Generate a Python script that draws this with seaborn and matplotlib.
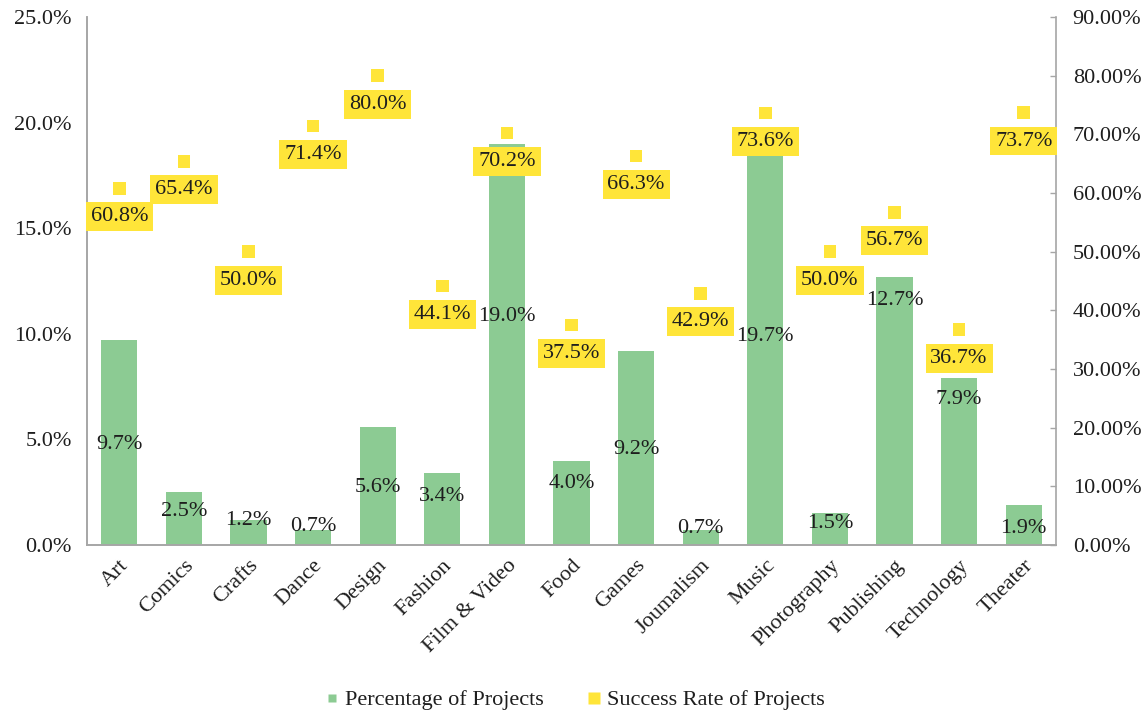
import numpy as np
import matplotlib
matplotlib.use("Agg")
import matplotlib.pyplot as plt
from matplotlib.lines import Line2D
from matplotlib.ticker import FuncFormatter
import seaborn as sns

# Kickstarter-style project categories
categories = ["Art", "Comics", "Crafts", "Dance", "Design", "Fashion", "Film & Video",
              "Food", "Games", "Joumalism", "Music", "Photography", "Publishing",
              "Technology", "Theater"]
# share of all projects per category (%)
share = [9.7, 2.5, 1.2, 0.7, 5.6, 3.4, 19.0, 4.0, 9.2, 0.7, 19.7, 1.5, 12.7, 7.9, 1.9]
# success rate per category (%)
success = [60.8, 65.4, 50.0, 71.4, 80.0, 44.1, 70.2, 37.5, 66.3, 42.9, 73.6, 50.0, 56.7, 36.7, 73.7]
# vertical placement of the share labels inside the bars (left-axis units)
share_label_y = [4.78, 1.6, 1.18, 0.87, 2.7, 2.29, 10.8, 2.93, 4.5, 0.8, 9.86, 1.04, 11.6, 6.87, 0.8]

GREEN = "#8CCB93"
YELLOW = "#FFE539"
SPINE = "#A6A6A6"
TEXT = "#1E1E1E"
FS = 16

sns.set_theme(style="white")
plt.rcParams["font.family"] = ["Liberation Serif", "DejaVu Serif"]
plt.rcParams["font.size"] = FS

fig = plt.figure(figsize=(11.48, 7.15), dpi=100)
ax = fig.add_axes([87 / 1148, 1 - 545 / 715, (1056 - 87) / 1148, (545 - 17) / 715])

pos = np.arange(len(categories))
sns.barplot(x=pos, y=share, color=GREEN, saturation=1, width=0.56, ax=ax,
            linewidth=0, native_scale=True)
ax.set_xlim(-0.5, len(categories) - 0.5)
ax.set_ylim(0, 25)
ax.set_yticks(np.arange(0, 25.1, 5))
ax.yaxis.set_major_formatter(FuncFormatter(lambda v, _: f"{v:.1f}%"))
ax.set_xticks(pos)
ax.set_xticklabels(categories, rotation=45, ha="right", rotation_mode="anchor",
                   color=TEXT, fontsize=FS)
ax.tick_params(axis="x", length=0, pad=8)
ax.tick_params(axis="y", length=0, pad=11, labelcolor=TEXT, labelsize=FS)
ax.set_xlabel("")
ax.set_ylabel("")

for i, (v, ly) in enumerate(zip(share, share_label_y)):
    ax.text(i, ly, f"{v:.1f}%", ha="center", va="center", color=TEXT, fontsize=FS)

ax2 = ax.twinx()
sns.scatterplot(x=pos, y=success, marker="s", s=80, color=YELLOW, edgecolor="none",
                ax=ax2, legend=False, zorder=3)
ax2.set_ylim(0, 90)
ax2.set_yticks(np.arange(0, 90.1, 10))
ax2.yaxis.set_major_formatter(FuncFormatter(lambda v, _: f"{v:.2f}%"))
ax2.tick_params(axis="y", direction="in", length=4, width=1, color=SPINE,
                pad=12, labelcolor=TEXT, labelsize=FS)
ax2.set_ylabel("")

for i, v in enumerate(success):
    ax2.annotate(f"{v:.1f}%", xy=(i, v), xytext=(0, -20.5), textcoords="offset points",
                 ha="center", va="center", color=TEXT, fontsize=FS, zorder=4,
                 bbox=dict(boxstyle="square,pad=0.22", fc=YELLOW, ec="none"))

for a in (ax, ax2):
    a.spines["top"].set_visible(False)
    for s in ("left", "right", "bottom"):
        a.spines[s].set_color(SPINE)
        a.spines[s].set_linewidth(1.2)
    a.grid(False)
ax.spines["right"].set_visible(False)

handles = [Line2D([], [], marker="s", linestyle="none", markersize=5.5,
                  markerfacecolor=GREEN, markeredgecolor="none"),
           Line2D([], [], marker="s", linestyle="none", markersize=8.5,
                  markerfacecolor=YELLOW, markeredgecolor="none")]
fig.legend(handles, ["Percentage of Projects", "Success Rate of Projects"],
           loc="center", bbox_to_anchor=(575 / 1148, 1 - 700 / 715), ncol=2,
           frameon=False, handlelength=0.6, handletextpad=0.25, columnspacing=2.0,
           fontsize=FS, labelcolor=TEXT)

fig.savefig("out.png", dpi=100)
